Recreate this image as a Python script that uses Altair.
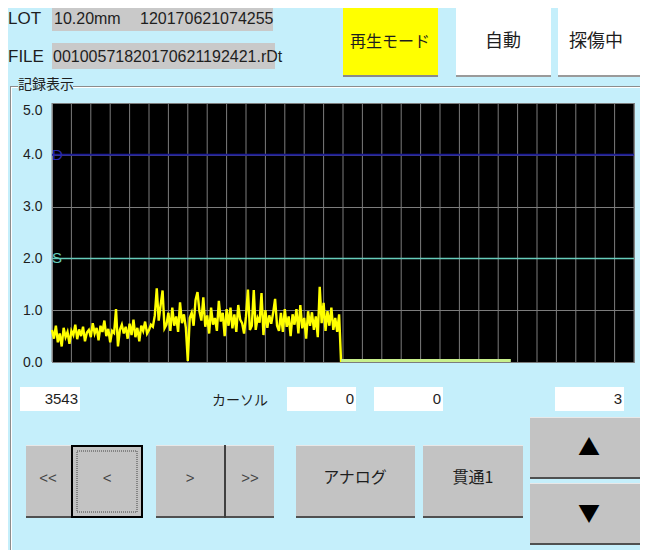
import altair as alt
import pandas as pd

# ---------------- data ----------------
y_ticks = [0, 1, 2, 3, 4, 5]
x_grid = list(range(0, 601, 20))          # 30 grid divisions
trace_x = list(range(0, 300, 2))          # sample positions
trace_y = [
    0.62, 0.45, 0.70, 0.38, 0.55, 0.30, 0.66, 0.48, 0.58, 0.35,
    0.60, 0.52, 0.72, 0.44, 0.63, 0.50, 0.68, 0.40, 0.57, 0.62,
    0.48, 0.75, 0.55, 0.66, 0.42, 0.70, 0.58, 0.80, 0.50, 0.64,
    0.38, 0.60, 0.56, 1.02, 0.30, 0.62, 0.72, 0.55, 0.68, 0.45,
    0.74, 0.52, 0.82, 0.48, 0.66, 0.40, 0.70, 0.60, 0.78, 0.55,
    0.62, 0.72, 0.68, 0.90, 1.42, 0.80, 1.10, 1.38, 0.65, 0.72,
    0.95, 0.60, 1.05, 0.70, 0.88, 0.58, 1.15, 0.75, 0.92, 0.66,
    0.02, 0.85, 0.95, 0.70, 1.20, 1.35, 0.98, 0.80, 1.25, 0.68,
    0.90, 0.55, 1.05, 0.72, 0.85, 0.60, 1.18, 0.78, 0.95, 0.50,
    1.02, 0.70, 1.05, 0.65, 0.92, 0.58, 1.10, 0.82, 0.75, 0.55,
    0.88, 1.40, 0.62, 0.70, 1.39, 0.62, 0.85, 0.76, 1.33, 0.52,
    1.00, 0.66, 0.90, 0.74, 0.95, 1.22, 0.70, 0.60, 0.95, 0.58,
    1.02, 0.68, 0.88, 0.50, 0.92, 0.72, 1.02, 0.55, 1.10, 0.65,
    0.85, 0.45, 0.98, 0.70, 0.96, 0.62, 0.88, 0.48, 1.45, 0.75,
    1.14, 0.60, 0.98, 0.70, 1.05, 0.62, 0.85, 0.58, 0.92, 0.00,
]
tail_x = [298, 473]
tail_y = [0.03, 0.03]
level_values = [4.0, 2.0]
level_names = ["D", "S"]

lot_size = "10.20mm"
lot_no = "120170621074255"
file_name = "00100571820170621192421.rDt"
count_label = "3543"
cursor_values = ["0", "0", "3"]

# ---------------- styling ----------------
NARROW = "Liberation Sans"
JP = "Noto Sans CJK JP"
BG = "#c5effb"
GRID = "#7c7c7c"
OX, OY = 52, 103   # page position of the plot origin

one = pd.DataFrame({"k": [0]})


def rect(x0, y0, x1, y1, fill, **kw):
    return alt.Chart(one).mark_rect(fill=fill, **kw).encode(
        x=alt.value(x0 - OX), x2=alt.value(x1 - OX),
        y=alt.value(y0 - OY), y2=alt.value(y1 - OY))


def txt(x, y, s, align="center", font=JP, size=16, color="#1e1e1e"):
    return alt.Chart(one).mark_text(
        text=s, align=align, baseline="middle", font=font,
        fontSize=size, color=color).encode(
        x=alt.value(x - OX), y=alt.value(y - OY))


def button(x0, y0, x1, y1, fill="#c3c3c3", shade="#505050"):
    return [rect(x0, y0, x1, y1, fill),
            rect(x0, y0, x1, y0 + 1, "#e8e8e8"),
            rect(x0, y1 - 2, x1, y1, shade)]


deco = []
# header
deco += [txt(8, 19, "LOT", "left", NARROW, 17),
         rect(52, 6, 273, 31, "#c9c9c9"),
         txt(54, 19, lot_size, "left", NARROW, 16),
         txt(140, 19, lot_no, "left", NARROW, 16),
         txt(8, 57, "FILE", "left", NARROW, 17),
         rect(52, 43, 275, 69, "#c9c9c9"),
         txt(53, 57, file_name, "left", NARROW, 16)]
deco += button(343, 5, 438, 77, "#ffff00", "#8a8a8a")
deco += [txt(390, 42, "再生モード", size=16)]
deco += button(456, 5, 551, 77, "#ffffff", "#9a9a9a")
deco += [txt(503, 42, "自動", size=18)]
deco += button(558, 5, 660, 77, "#ffffff", "#9a9a9a")
deco += [txt(596, 42, "探傷中", size=18)]
# group box
deco += [rect(10, 86, 18, 87, "#8c8c8c"), rect(73, 86, 660, 87, "#8c8c8c"),
         rect(11, 87, 18, 88, "#ffffff"), rect(73, 87, 660, 88, "#ffffff"),
         rect(10, 86, 11, 560, "#8c8c8c"), rect(11, 88, 12, 560, "#ffffff"),
         txt(18, 85, "記録表示", "left", JP, 14)]
# value fields
deco += [rect(20, 387, 80, 411, "#ffffff"),
         txt(78, 399, count_label, "right", NARROW, 15),
         txt(240, 401, "カーソル", "center", JP, 14),
         rect(287, 387, 356, 411, "#ffffff"),
         txt(354, 399, cursor_values[0], "right", NARROW, 15),
         rect(374, 387, 443, 411, "#ffffff"),
         txt(441, 399, cursor_values[1], "right", NARROW, 15),
         rect(555, 387, 624, 411, "#ffffff"),
         txt(622, 399, cursor_values[2], "right", NARROW, 15)]
# bottom buttons
deco += button(26, 445, 71, 518)
deco += [txt(48, 478, "<<", font=NARROW, size=15, color="#444")]
deco += button(71, 445, 143, 518)
deco += [rect(72, 446, 142, 517, "none", stroke="#000000", strokeWidth=2),
         rect(77, 451, 137, 512, "none", stroke="#444444", strokeWidth=1,
              strokeDash=[1, 1]),
         txt(107, 478, "<", font=NARROW, size=15, color="#444")]
deco += button(156, 445, 225, 518)
deco += [txt(190, 478, ">", font=NARROW, size=15, color="#444")]
deco += button(226, 445, 274, 518)
deco += [rect(224, 445, 226, 518, "#404040"),
         txt(250, 478, ">>", font=NARROW, size=15, color="#444")]
deco += button(296, 445, 415, 518)
deco += [txt(355, 478, "アナログ", size=16)]
deco += button(423, 445, 523, 518)
deco += [txt(473, 478, "貫通1", size=16)]
deco += button(530, 417, 660, 479)
deco += [txt(589, 448, "▲", font=JP, size=22, color="#000")]
deco += button(530, 483, 660, 545)
deco += [txt(589, 514, "▼", font=JP, size=22, color="#000")]

# ---------------- chart ----------------
xs = alt.Scale(domain=[0, 600], nice=False, zero=False)
ys = alt.Scale(domain=[0, 5], nice=False)

y_axis = alt.Axis(values=y_ticks, format=".1f", ticks=False, domain=False,
                  grid=True, gridColor=GRID, gridWidth=1, title=None,
                  labelFont=NARROW, labelFontSize=14, labelColor="#1e1e1e",
                  labelPadding=10,
                  labelBaseline={"condition": {"test": "datum.value == 5",
                                               "value": "top"},
                                 "value": "middle"})

trace_df = pd.DataFrame({"x": trace_x, "y": trace_y})
tail_df = pd.DataFrame({"x": tail_x, "y": tail_y})
lv_df = pd.DataFrame({"v": level_values, "name": level_names})
grid_df = pd.DataFrame({"g": x_grid})

vgrid = alt.Chart(grid_df).mark_rule(color=GRID, strokeWidth=1).encode(
    x=alt.X("g:Q", scale=xs, axis=None))
trace = alt.Chart(trace_df).mark_line(color="#ffff00", strokeWidth=2.4).encode(
    x=alt.X("x:Q", scale=xs, axis=None),
    y=alt.Y("y:Q", scale=ys, axis=y_axis))
tail = alt.Chart(tail_df).mark_line(color="#c8f08c", strokeWidth=3).encode(
    x=alt.X("x:Q", scale=xs, axis=None), y=alt.Y("y:Q", scale=ys))

rule_d = alt.Chart(lv_df).transform_filter("datum.name == 'D'").mark_rule(
    color="#1c1c96", strokeWidth=2).encode(y=alt.Y("v:Q", scale=ys))
rule_s = alt.Chart(lv_df).transform_filter("datum.name == 'S'").mark_rule(
    color="#66ccbb", strokeWidth=1.5).encode(y=alt.Y("v:Q", scale=ys))
lab_d = alt.Chart(lv_df).transform_filter("datum.name == 'D'").mark_text(
    align="left", baseline="middle", font=NARROW, fontSize=15,
    color="#2a2ab0", dx=0).encode(
    x=alt.value(0), y=alt.Y("v:Q", scale=ys), text="name:N")
lab_s = alt.Chart(lv_df).transform_filter("datum.name == 'S'").mark_text(
    align="left", baseline="middle", font=NARROW, fontSize=15,
    color="#66ccbb", dx=0).encode(
    x=alt.value(0), y=alt.Y("v:Q", scale=ys), text="name:N")

main = alt.layer(vgrid, trace, tail, rule_d, rule_s, lab_d, lab_s)

chart = alt.layer(*deco, main).properties(
    width=582, height=259,
    autosize=alt.AutoSizeParams(type="none"),
    padding={"left": 44, "top": 95, "right": 6, "bottom": 188},
    background=BG,
).configure_view(fill="#000000", stroke="#8c8c8c", strokeWidth=1)

chart.save("out.html", embed_options={"renderer": "svg", "actions": False})
